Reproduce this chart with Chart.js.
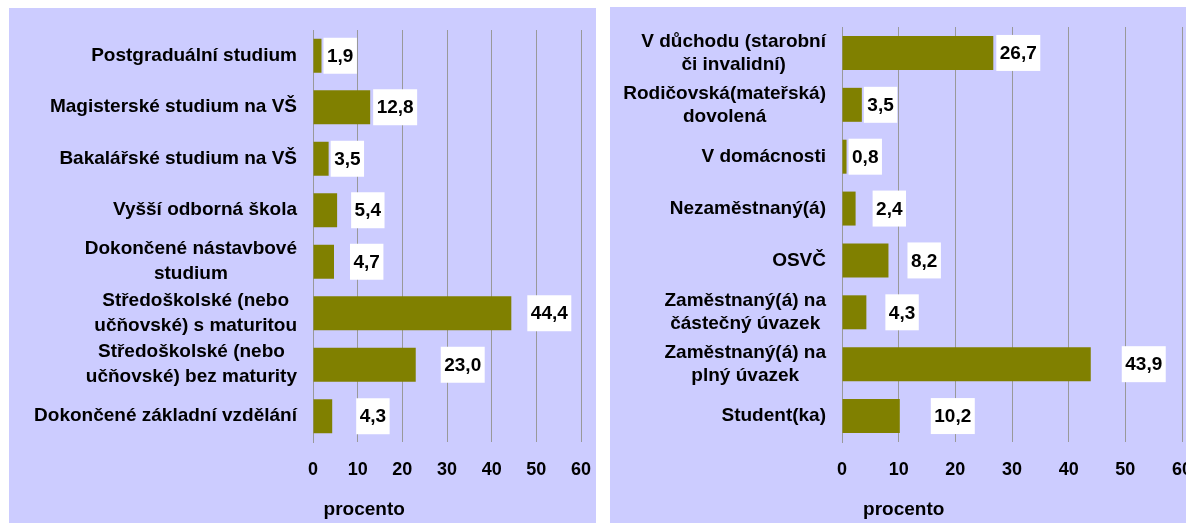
<!DOCTYPE html>
<html lang="cs">
<head>
<meta charset="utf-8">
<script src="https://cdn.jsdelivr.net/npm/chart.js@4.4.0/dist/chart.umd.min.js"></script>
<style>
  html, body { margin: 0; padding: 0; background: #fff; overflow: hidden; width: 1186px; height: 523px; }
  .panel { position: absolute; background: #ccccff; overflow: hidden; }
  #panelVzdelani { left: 9px; top: 8px; width: 587px; height: 515px; }
  #panelStatus { left: 610px; top: 7px; width: 600px; height: 516px; }
</style>
</head>
<body>
<div class="panel" id="panelVzdelani"><canvas id="grafVzdelani" width="587" height="515"></canvas></div>
<div class="panel" id="panelStatus"><canvas id="grafStatus" width="600" height="516"></canvas></div>
<script>
// --- DATA ---
const vzdelaniLabels = [
  "Postgraduální studium",
  "Magisterské studium na VŠ",
  "Bakalářské studium na VŠ",
  "Vyšší odborná škola",
  ["Dokončené nástavbové", "studium"],
  ["Středoškolské (nebo", "učňovské) s maturitou"],
  ["Středoškolské (nebo", "učňovské) bez maturity"],
  "Dokončené základní vzdělání"
];
const vzdelaniValues = [1.9, 12.8, 3.5, 5.4, 4.7, 44.4, 23.0, 4.3];

const statusLabels = [
  ["V důchodu (starobní", "či invalidní)"],
  ["Rodičovská(mateřská)", "dovolená"],
  "V domácnosti",
  "Nezaměstnaný(á)",
  "OSVČ",
  ["Zaměstnaný(á) na", "částečný úvazek"],
  ["Zaměstnaný(á) na", "plný úvazek"],
  "Student(ka)"
];
const statusValues = [26.7, 3.5, 0.8, 2.4, 8.2, 4.3, 43.9, 10.2];

const xTicks = [0, 10, 20, 30, 40, 50, 60];
const axisTitle = "procento";

// --- STYL ---
const FONT = "'Liberation Sans', Arial, sans-serif";
const GRID = "#999999";
const BAR = "#808000";

// category labels: block right-aligned to the axis, lines centred in the block
const popisky = {
  id: "popisky",
  afterDraw(chart, args, opts) {
    const ctx = chart.ctx;
    const y = chart.scales.y;
    ctx.save();
    ctx.font = `bold ${opts.size}px ${FONT}`;
    ctx.fillStyle = "#000";
    ctx.textAlign = "center";
    ctx.textBaseline = "middle";
    chart.data.labels.forEach((lab, i) => {
      const lines = Array.isArray(lab) ? lab : [lab];
      const widest = Math.max(...lines.map(l => ctx.measureText(l).width));
      const cx = y.right - opts.gap - widest / 2;
      const cy = y.getPixelForTick(i);
      lines.forEach((l, k) => {
        ctx.fillText(l, cx, cy + (k - (lines.length - 1) / 2) * opts.lineHeight);
      });
    });
    ctx.restore();
  }
};

// value labels in white boxes next to the bars
const hodnoty = {
  id: "hodnoty",
  afterDatasetsDraw(chart, args, opts) {
    const ctx = chart.ctx;
    const meta = chart.getDatasetMeta(0);
    const data = chart.data.datasets[0].data;
    ctx.save();
    ctx.font = `bold ${opts.size}px ${FONT}`;
    ctx.textAlign = "center";
    ctx.textBaseline = "middle";
    meta.data.forEach((bar, i) => {
      const p = bar.getProps(["x", "y", "height"], true);
      const txt = data[i].toFixed(1).replace(".", ",");
      const w = ctx.measureText(txt).width + 7;
      const h = p.height + 2;
      const x = p.x + opts.gaps[i];
      ctx.fillStyle = "#fff";
      ctx.fillRect(x, p.y - h / 2, w, h);
      ctx.fillStyle = "#000";
      ctx.fillText(txt, x + w / 2, p.y + 1);
    });
    ctx.restore();
  }
};

function vytvorGraf(id, labels, values, o) {
  return new Chart(document.getElementById(id), {
    type: "bar",
    data: {
      labels,
      datasets: [{ data: values, backgroundColor: BAR, barPercentage: o.bar, categoryPercentage: 1 }]
    },
    options: {
      indexAxis: "y",
      responsive: false,
      animation: false,
      events: [],
      layout: { padding: { top: o.top, right: o.right, left: 0, bottom: 0 } },
      plugins: {
        legend: { display: false },
        tooltip: { enabled: false },
        popisky: { size: 19, gap: 16, lineHeight: o.lineHeight },
        hodnoty: { size: 19, gaps: o.gaps }
      },
      scales: {
        x: {
          min: xTicks[0],
          max: xTicks[xTicks.length - 1],
          afterBuildTicks: s => { s.ticks = xTicks.map(v => ({ value: v })); },
          afterFit: s => { s.height = 81; s.paddingLeft = 0; s.paddingRight = 0; },
          grid: { color: GRID, lineWidth: 1, drawTicks: false },
          border: { display: false },
          ticks: { padding: 17, color: "#000", font: { family: FONT, size: 18, weight: "bold" } },
          title: {
            display: true,
            text: o.title,
            align: "start",
            color: "#000",
            font: { family: FONT, size: 19, weight: "bold" },
            padding: { top: 0, bottom: 2 }
          }
        },
        y: {
          grid: { display: false },
          border: { color: GRID, width: 1 },
          ticks: { display: false },
          afterFit: s => { s.width = o.axisWidth; s.paddingTop = 0; s.paddingBottom = 0; }
        }
      }
    },
    plugins: [popisky, hodnoty]
  });
}

// --- GRAFY ---
vytvorGraf("grafVzdelani", vzdelaniLabels, vzdelaniValues, {
  top: 22, right: 15, axisWidth: 304, bar: 0.66, lineHeight: 25,
  title: "  " + axisTitle,
  gaps: [2, 3, 2, 14, 16, 16, 25, 24]
});

vytvorGraf("grafStatus", statusLabels, statusValues, {
  top: 20, right: 28, axisWidth: 232, bar: 0.655, lineHeight: 23,
  title: "    " + axisTitle,
  gaps: [3, 2, 2, 17, 19, 19, 31, 31]
});
</script>
</body>
</html>
